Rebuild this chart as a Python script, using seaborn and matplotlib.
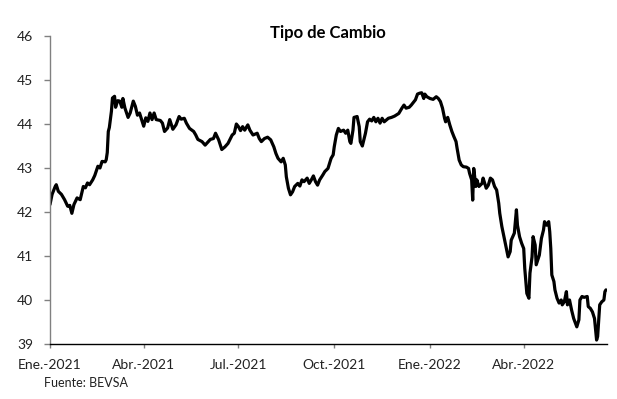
import matplotlib
matplotlib.use("Agg")
import matplotlib.pyplot as plt
import matplotlib.dates as mdates
import seaborn as sns
import pandas as pd

# Data (days since 2021-01-01, exchange rate)
start_date = "2021-01-01"
days = [0, 2, 5, 6, 8, 11, 14, 17, 19, 21, 23, 26, 29, 32, 34, 36, 38, 41, 43, 46,
        48, 50, 53, 54, 55, 56, 57, 59, 60, 62, 63, 65, 67, 69, 70, 72, 75, 77, 80, 82,
        84, 86, 90, 92, 94, 96, 98, 100, 102, 106, 108, 110, 113, 115, 118, 121, 124, 126, 129, 131,
        134, 138, 140, 142, 146, 149, 152, 154, 157, 159, 162, 165, 168, 171, 175, 177, 179, 181, 183, 185,
        187, 190, 192, 195, 199, 201, 203, 206, 209, 212, 215, 217, 219, 222, 224, 226, 227, 229, 231, 233,
        235, 238, 240, 242, 244, 247, 249, 251, 253, 255, 257, 259, 262, 264, 267, 270, 272, 273, 275, 277,
        279, 282, 284, 286, 288, 289, 291, 292, 295, 297, 298, 300, 303, 305, 307, 309, 311, 313, 315, 317,
        319, 321, 323, 325, 328, 331, 335, 338, 340, 342, 345, 347, 351, 353, 355, 357, 359, 360, 362, 365,
        368, 371, 373, 375, 377, 379, 380, 382, 384, 386, 388, 390, 391, 393, 395, 397, 400, 402, 403, 405,
        406, 407, 409, 410, 412, 415, 416, 419, 421, 423, 425, 427, 429, 431, 432, 434, 436, 438, 440, 442,
        443, 446, 448, 449, 451, 453, 455, 456, 458, 460, 461, 463, 464, 466, 467, 470, 472, 474, 475, 477,
        479, 480, 481, 482, 484, 485, 487, 489, 491, 492, 494, 496, 497, 499, 501, 503, 506, 508, 509, 511,
        513, 516, 517, 519, 521, 523, 525, 526, 528, 530, 532, 533, 534]
rate = [42.17, 42.40, 42.58, 42.62, 42.47, 42.40, 42.28, 42.13, 42.15, 41.97, 42.17, 42.32, 42.28, 42.58, 42.55, 42.66, 42.62, 42.73, 42.83, 43.04,
        43.00, 43.15, 43.14, 43.19, 43.35, 43.83, 43.92, 44.29, 44.59, 44.63, 44.38, 44.53, 44.52, 44.38, 44.58, 44.36, 44.15, 44.25, 44.52, 44.40,
        44.20, 44.25, 43.95, 44.14, 44.06, 44.25, 44.10, 44.25, 44.10, 44.08, 44.02, 43.83, 43.91, 44.10, 43.88, 43.98, 44.17, 44.11, 44.13, 44.02,
        43.90, 43.83, 43.75, 43.65, 43.60, 43.52, 43.60, 43.65, 43.67, 43.79, 43.64, 43.42, 43.48, 43.56, 43.75, 43.79, 44.00, 43.94, 43.85, 43.94,
        43.86, 43.98, 43.86, 43.75, 43.79, 43.67, 43.60, 43.67, 43.70, 43.64, 43.48, 43.33, 43.22, 43.14, 43.22, 43.07, 42.80, 42.54, 42.39, 42.46,
        42.58, 42.65, 42.59, 42.73, 42.69, 42.77, 42.65, 42.73, 42.82, 42.69, 42.61, 42.73, 42.84, 42.92, 42.99, 43.22, 43.30, 43.48, 43.75, 43.90,
        43.83, 43.86, 43.79, 43.86, 43.60, 43.56, 43.86, 44.15, 44.17, 43.94, 43.60, 43.50, 43.79, 44.05, 44.11, 44.07, 44.15, 44.05, 44.13, 44.02,
        44.13, 44.05, 44.09, 44.13, 44.15, 44.18, 44.24, 44.36, 44.43, 44.36, 44.38, 44.43, 44.55, 44.68, 44.70, 44.71, 44.58, 44.68, 44.62, 44.58,
        44.56, 44.62, 44.58, 44.51, 44.36, 44.13, 44.05, 44.15, 43.98, 43.83, 43.71, 43.60, 43.45, 43.18, 43.07, 43.03, 43.02, 42.99, 42.88, 42.73,
        42.27, 42.99, 42.58, 42.73, 42.58, 42.65, 42.77, 42.54, 42.61, 42.77, 42.73, 42.58, 42.50, 42.20, 41.97, 41.67, 41.44, 41.21, 40.98, 41.10,
        41.36, 41.52, 42.05, 41.70, 41.44, 41.29, 41.17, 40.72, 40.15, 40.04, 40.61, 40.98, 41.44, 41.25, 40.80, 41.02, 41.40, 41.59, 41.78, 41.70,
        41.78, 41.55, 41.17, 40.57, 40.42, 40.23, 40.04, 39.93, 40.00, 39.89, 39.96, 40.19, 39.89, 40.00, 39.77, 39.58, 39.39, 39.55, 40.00, 40.08,
        40.06, 40.08, 39.85, 39.81, 39.73, 39.58, 39.09, 39.17, 39.89, 39.96, 40.00, 40.19, 40.23]

tick_dates = ["2021-01-01", "2021-04-01", "2021-07-01", "2021-10-01", "2022-01-01", "2022-04-01"]
tick_labels = ["Ene.-2021", "Abr.-2021", "Jul.-2021", "Oct.-2021", "Ene.-2022", "Abr.-2022"]
y_ticks = [39, 40, 41, 42, 43, 44, 45, 46]
title = "Tipo de Cambio"
source = "Fuente: BEVSA"

sns.set_theme(style="ticks")
plt.rcParams["font.family"] = ["Lato", "DejaVu Sans"]

df = pd.DataFrame({
    "fecha": pd.Timestamp(start_date) + pd.to_timedelta(days, unit="D"),
    "tc": rate,
})

fig = plt.figure(figsize=(6.17, 3.99), dpi=100)
ax = fig.add_axes([50 / 617, 55 / 399, 557 / 617, 308 / 399])
sns.lineplot(data=df, x="fecha", y="tc", color="black", linewidth=2.3, ax=ax)

ax.set_ylim(39, 46)
ax.set_yticks(y_ticks)
ax.set_xlim(pd.Timestamp(start_date), pd.Timestamp(start_date) + pd.Timedelta(days=535))
ax.set_xticks(pd.to_datetime(tick_dates))
ax.set_xticklabels(tick_labels)
ax.set_xlabel("")
ax.set_ylabel("")

for s in ["top", "right"]:
    ax.spines[s].set_visible(False)
ax.spines["left"].set_color("#808080")
ax.spines["left"].set_linewidth(1.0)
ax.spines["bottom"].set_color("black")
ax.spines["bottom"].set_linewidth(1.0)
ax.tick_params(axis="y", length=4, width=1.0, color="#808080", pad=8, labelsize=10, labelcolor="#222222")
ax.tick_params(axis="x", length=3, width=1.0, color="#808080", pad=8, labelsize=10, labelcolor="#222222")

fig.text(328 / 617, (399 - 38) / 399, title, ha="center", va="baseline",
         fontsize=12, fontweight="bold", color="black")
fig.text(44 / 617, (399 - 387) / 399, source, ha="left", va="baseline",
         fontsize=9, color="#222222")

fig.savefig("out.png", dpi=100)
